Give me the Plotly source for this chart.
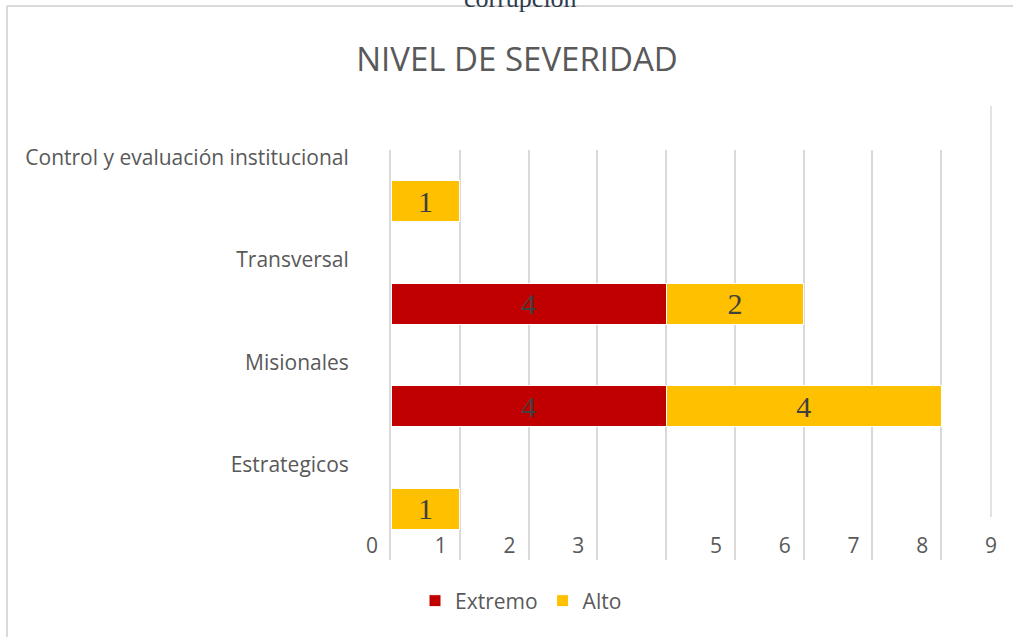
import plotly.graph_objects as go

categories = ["Estrategicos", "Misionales", "Transversal", "Control y evaluación institucional"]
extremo = [0, 4, 4, 0]
alto = [1, 4, 2, 1]
x_ticks = [0, 1, 2, 3, 4, 5, 6, 7, 8, 9]
x_ticktext = ["0", "1", "2", "3", "", "5", "6", "7", "8", "9"]
grid_vals = [0, 1, 2, 3, 4, 5, 6, 7, 8]

W, H = 1013, 637
L, R, T, B = 391, 3, 150, 77
pw, ph = W - L - R, H - T - B

FONT = "Open Sans"

def lbl(vals):
    return [str(v) if v else "" for v in vals]

fig = go.Figure()
fig.add_trace(go.Bar(
    y=categories, x=extremo, name="Extremo", orientation="h",
    marker=dict(color="#C00000", line=dict(color="white", width=1)),
    text=lbl(extremo), textposition="inside", insidetextanchor="middle",
    textfont=dict(family="Liberation Serif", size=30, color="#404040"),
    width=0.4,
))
fig.add_trace(go.Bar(
    y=categories, x=alto, name="Alto", orientation="h",
    marker=dict(color="#FFC000", line=dict(color="white", width=1)),
    text=lbl(alto), textposition="inside", insidetextanchor="middle",
    textfont=dict(family="Liberation Serif", size=30, color="#404040"),
    width=0.4,
))

def px_x(p):
    return (p - L) / pw

def px_y(p):
    return (H - B - p) / ph

shapes = [
    dict(type="line", xref="paper", yref="paper", x0=px_x(7), x1=px_x(1013), y0=px_y(6), y1=px_y(6),
         line=dict(color="#d9d9d9", width=2)),
    dict(type="line", xref="paper", yref="paper", x0=px_x(7), x1=px_x(7), y0=px_y(6), y1=px_y(637),
         line=dict(color="#d9d9d9", width=2)),
    dict(type="line", xref="paper", yref="paper", x0=px_x(991), x1=px_x(991), y0=px_y(106), y1=px_y(517),
         line=dict(color="#d9d9d9", width=1.5)),
]

fig.update_layout(
    barmode="stack",
    width=W, height=H,
    margin=dict(l=L, r=R, t=T, b=B, autoexpand=False),
    paper_bgcolor="white", plot_bgcolor="white",
    font=dict(family=FONT, color="#595959"),
    title=dict(text="NIVEL DE SEVERIDAD", x=517 / W, xref="container", xanchor="center",
               y=1 - 59 / H, yref="container", yanchor="middle",
               font=dict(family=FONT, size=33, color="#595959")),
    showlegend=True,
    legend=dict(orientation="h", x=px_x(415), xanchor="left", y=px_y(601), yanchor="middle",
                font=dict(family=FONT, size=21, color="#595959"), bgcolor="rgba(0,0,0,0)",
                itemwidth=30, traceorder="normal"),
    shapes=shapes,
    annotations=[dict(text="corrupción", xref="paper", yref="paper", x=px_x(520), y=px_y(-1),
                      xanchor="center", yanchor="middle", showarrow=False,
                      font=dict(family="Liberation Serif", size=26, color="#2f3b4f"))],
)
fig.update_xaxes(
    range=[0, 9], tickvals=x_ticks, ticktext=x_ticktext,
    showgrid=False, zeroline=False, showline=False,
    ticks="", ticklabelposition="outside", ticklabelstandoff=-29, ticklabelshift=-19,
    tickfont=dict(family=FONT, size=21, color="#595959"),
    minor=dict(tickvals=grid_vals, showgrid=True, gridcolor="#d9d9d9", gridwidth=2),
)
fig.update_yaxes(
    categoryorder="array", categoryarray=categories, range=[-0.5, 3.5],
    showgrid=False, zeroline=False, showline=True, linecolor="#d9d9d9", linewidth=2,
    ticks="", ticklabelshift=-44, ticklabelstandoff=36,
    tickfont=dict(family=FONT, size=21, color="#595959"),
)
fig.write_html("out.html", config={"displayModeBar": False},
               post_script="document.body.style.margin='0';document.body.style.overflow='hidden';")
